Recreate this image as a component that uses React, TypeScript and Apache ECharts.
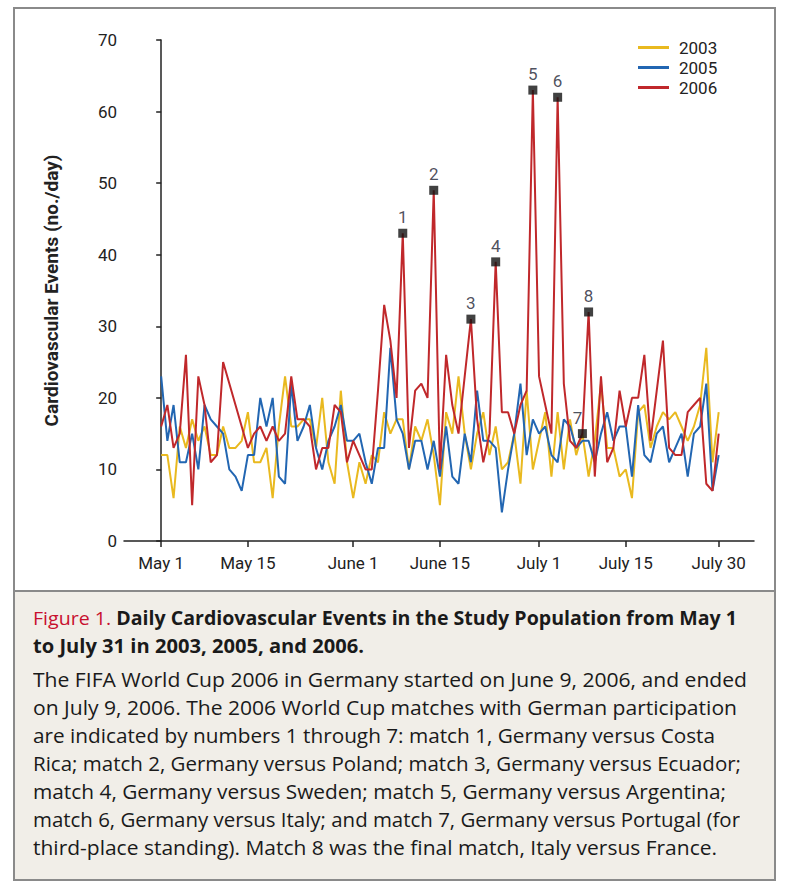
import React, { useEffect, useLayoutEffect, useRef } from "react";
import * as echarts from "echarts";

const years = ["2003", "2005", "2006"];
const y2003 = [12, 12, 6, 16, 13, 17, 14, 16, 12, 12, 16, 13, 13, 14, 18, 11, 11, 13, 6, 16, 23, 16, 16, 17, 17, 13, 20, 11, 8, 21, 11, 6, 11, 8, 12, 11, 18, 15, 17, 17, 10, 16, 14, 17, 12, 5, 18, 15, 23, 15, 10, 15, 18, 12, 16, 10, 11, 15, 8, 21, 10, 14, 18, 9, 18, 10, 17, 12, 15, 9, 14, 22, 13, 13, 9, 10, 6, 18, 19, 13, 16, 18, 17, 18, 16, 14, 16, 19, 27, 11, 18];
const y2005 = [23, 14, 19, 11, 11, 15, 10, 19, 17, 16, 15, 10, 9, 7, 12, 12, 20, 16, 20, 9, 8, 22, 14, 16, 19, 13, 10, 14, 16, 19, 14, 14, 15, 11, 8, 13, 13, 27, 17, 15, 10, 14, 14, 10, 14, 9, 16, 9, 8, 15, 11, 21, 14, 14, 13, 4, 10, 15, 22, 12, 17, 15, 16, 12, 11, 17, 16, 13, 14, 14, 11, 15, 18, 14, 16, 16, 9, 19, 12, 11, 15, 16, 11, 13, 15, 9, 15, 16, 22, 7, 12];
const y2006 = [16, 19, 13, 15, 26, 5, 23, 19, 11, 12, 25, 22, 19, 16, 13, 15, 16, 14, 16, 14, 15, 23, 17, 17, 16, 10, 13, 13, 19, 18, 11, 14, 12, 10, 10, 21, 33, 28, 20, 43, 13, 21, 22, 20, 49, 10, 26, 19, 15, 23, 31, 17, 11, 15, 39, 18, 18, 15, 19, 21, 63, 23, 19, 15, 62, 22, 14, 13, 15, 32, 9, 23, 11, 13, 21, 16, 20, 20, 26, 14, 21, 28, 13, 12, 12, 18, 19, 20, 8, 7, 15];
const tickDays = [0, 14, 31, 45, 61, 75, 90];
const tickLabels = ["May 1", "May 15", "June 1", "June 15", "July 1", "July 15", "July 30"];
const matchDays = [39, 44, 50, 54, 60, 64, 68, 69];
const matchLabels = ["1", "2", "3", "4", "5", "6", "7", "8"];
const colors = ["#e9b91f", "#2266b2", "#c0282b"];

const FONT = "Roboto, 'Open Sans', sans-serif";

const figureLabel = "Figure 1.";
const titleLines = [
  " Daily Cardiovascular Events in the Study Population from May 1",
  "to July 31 in 2003, 2005, and 2006.",
];
const bodyLines = [
  "The FIFA World Cup 2006 in Germany started on June 9, 2006, and ended",
  "on July 9, 2006. The 2006 World Cup matches with German participation",
  "are indicated by numbers 1 through 7: match 1, Germany versus Costa",
  "Rica; match 2, Germany versus Poland; match 3, Germany versus Ecuador;",
  "match 4, Germany versus Sweden; match 5, Germany versus Argentina;",
  "match 6, Germany versus Italy; and match 7, Germany versus Portugal (for",
  "third-place standing). Match 8 was the final match, Italy versus France.",
];
// measured text widths of each caption line in the reference (layout only)
const titleWidths = [704, 331];
const bodyWidths = [714, 704, 682, 708, 693, 707, 684];

export default function App() {
  const ref = useRef<HTMLDivElement>(null);
  const lineRefs = useRef<(HTMLSpanElement | null)[]>([]);
  const widths = [...titleWidths, ...bodyWidths];

  useLayoutEffect(() => {
    lineRefs.current.forEach((el, i) => {
      if (!el) return;
      el.style.transform = "none";
      const w = el.getBoundingClientRect().width;
      if (w > 0) el.style.transform = `scaleX(${widths[i] / w})`;
    });
  }, []);

  useEffect(() => {
    if (!ref.current) return;
    const chart = echarts.init(ref.current, null, { renderer: "svg" });
    const seriesData = [y2003, y2005, y2006];
    chart.setOption({
      animation: false,
      textStyle: { fontFamily: FONT },
      grid: { left: 124, top: 40, right: 34, bottom: 49 },
      legend: {
        data: years,
        orient: "vertical",
        left: 633,
        top: 34,
        icon: "rect",
        itemWidth: 31,
        itemHeight: 3,
        itemGap: 3,
        textStyle: { fontFamily: FONT, fontSize: 17, color: "#222", padding: [0, 0, 0, 5] },
      },
      xAxis: {
        type: "value",
        min: -6,
        max: 95.7,
        axisLine: { lineStyle: { color: "#222", width: 1.5 } },
        axisTick: { customValues: tickDays, length: 6, lineStyle: { color: "#222", width: 1.5 } },
        axisLabel: {
          customValues: tickDays,
          formatter: (v: number) => tickLabels[tickDays.indexOf(v)] ?? "",
          fontFamily: FONT,
          fontSize: 17,
          color: "#222",
          margin: 13,
        },
        splitLine: { show: false },
      },
      yAxis: {
        type: "value",
        min: 0,
        max: 70,
        interval: 10,
        name: "Cardiovascular Events (no./day)",
        nameLocation: "middle",
        nameGap: 63,
        nameTextStyle: { fontFamily: FONT, fontSize: 19, fontWeight: "bold", color: "#222" },
        axisLine: { show: true, lineStyle: { color: "#222", width: 1.5 } },
        axisTick: { show: true, length: 5, lineStyle: { color: "#222", width: 1.5 } },
        axisLabel: { fontFamily: FONT, fontSize: 17, color: "#222", margin: 7 },
        splitLine: { show: false },
      },
      series: [
        ...years.map((yr, i) => ({
          name: yr,
          type: "line",
          data: seriesData[i].map((v, d) => [d, v]),
          showSymbol: false,
          symbol: "none",
          lineStyle: { color: colors[i], width: 2 },
          itemStyle: { color: colors[i] },
          z: 2 + i,
        })),
        {
          name: "matches",
          type: "scatter",
          symbol: "rect",
          symbolSize: 9,
          itemStyle: { color: "#111" },
          z: 10,
          data: matchDays.map((d, i) => ({
            value: [d, y2006[d]],
            label: {
              show: true,
              position: "top",
              distance: 3,
              formatter: matchLabels[i],
              offset: matchLabels[i] === "7" ? [-5, 0] : [0, 0],
              fontFamily: FONT,
              fontSize: 17,
              color: "#1d2333",
            },
          })),
        },
      ],
    });
    return () => chart.dispose();
  }, []);

  const spanStyle: React.CSSProperties = { display: "inline-block", transformOrigin: "0 0" };

  return (
    <div style={{ position: "absolute", left: 0, top: 0, width: 788, height: 885, background: "#fff", overflow: "hidden" }}>
      <div ref={ref} style={{ position: "absolute", left: 0, top: 0, width: 788, height: 590 }} />
      <div
        style={{
          position: "absolute",
          left: 15,
          top: 590,
          width: 760,
          height: 290,
          background: "#f1eee8",
          borderTop: "2px solid #8a8a8a",
          boxSizing: "border-box",
          fontFamily: "'Open Sans', 'Noto Sans', sans-serif",
          color: "#1a1a1a",
          whiteSpace: "pre",
        }}
      >
        <div style={{ position: "absolute", left: 18, top: 12, fontSize: 19, fontWeight: "bold", lineHeight: "28px" }}>
          <div>
            <span ref={(el) => { lineRefs.current[0] = el; }} style={spanStyle}>
              <span style={{ color: "#c8102e", fontWeight: "normal" }}>{figureLabel}</span>
              {titleLines[0]}
            </span>
          </div>
          <div>
            <span ref={(el) => { lineRefs.current[1] = el; }} style={spanStyle}>
              {titleLines[1]}
            </span>
          </div>
        </div>
        <div style={{ position: "absolute", left: 18, top: 74, fontSize: 20, lineHeight: "28px" }}>
          {bodyLines.map((l, i) => (
            <div key={i}>
              <span ref={(el) => { lineRefs.current[2 + i] = el; }} style={spanStyle}>
                {l}
              </span>
            </div>
          ))}
        </div>
      </div>
      <div
        style={{
          position: "absolute",
          left: 13,
          top: 7,
          width: 763,
          height: 874,
          border: "2px solid #8a8a8a",
          boxSizing: "border-box",
          pointerEvents: "none",
        }}
      />
    </div>
  );
}
